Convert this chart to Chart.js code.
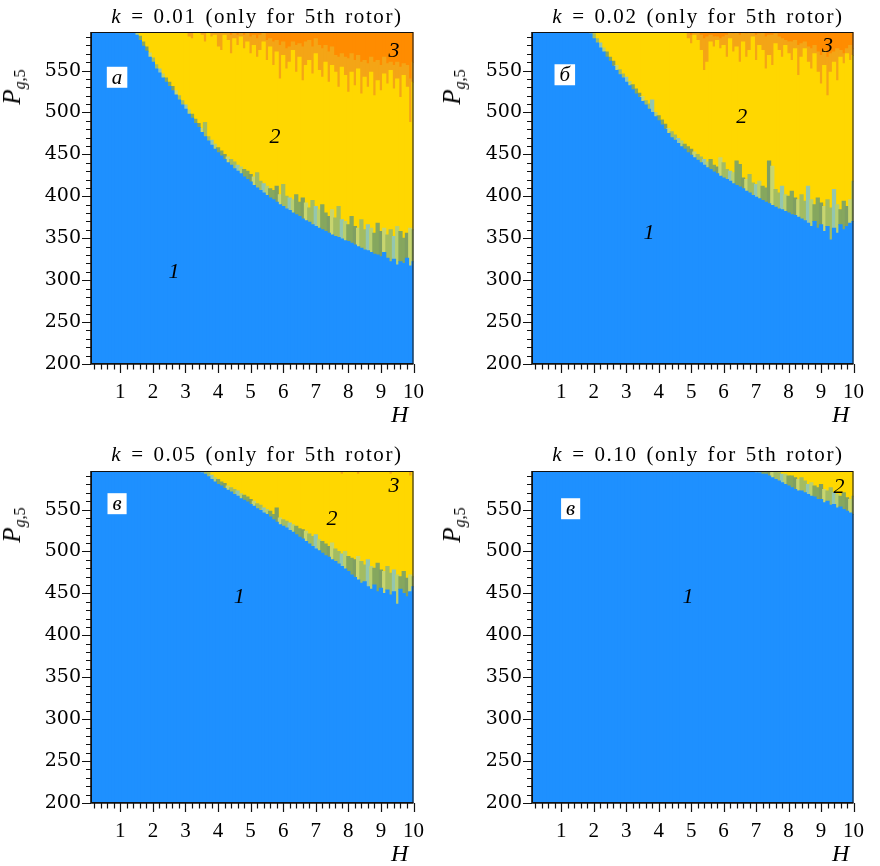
<!DOCTYPE html>
<html>
<head>
<meta charset="utf-8">
<script src="https://cdn.jsdelivr.net/npm/chart.js@4.4.1/dist/chart.umd.min.js"></script>
<style>
  body { margin: 0; background: #fff; }
  #wrap { position: relative; width: 880px; height: 866px; overflow: hidden; font-family: "Liberation Serif", serif; color: #000; }
  canvas { position: absolute; }
  .ttl { position: absolute; width: 440px; text-align: center; font-size: 21px; line-height: 24px; letter-spacing: 1.6px; word-spacing: 2px; white-space: nowrap; }
  .ylab { position: absolute; transform: translate(-50%, -50%) rotate(-90deg); white-space: nowrap; font-size: 25px; line-height: 26px; }
  .ylab sub { font-size: 16px; vertical-align: -5px; }
  .hlab { position: absolute; font-style: italic; font-size: 24px; line-height: 24px; }
</style>
</head>
<body>
<div id="wrap">
  <canvas id="cA" width="440" height="433" style="left:0;top:0"></canvas>
  <canvas id="cB" width="440" height="433" style="left:440px;top:0"></canvas>
  <canvas id="cC" width="440" height="433" style="left:0;top:439px"></canvas>
  <canvas id="cD" width="440" height="433" style="left:440px;top:439px"></canvas>

  <div class="ttl" style="left:37px;top:4px"><i>k</i> = 0.01 (only for 5th rotor)</div>
  <div class="ttl" style="left:478px;top:4px"><i>k</i> = 0.02 (only for 5th rotor)</div>
  <div class="ttl" style="left:37px;top:442px"><i>k</i> = 0.05 (only for 5th rotor)</div>
  <div class="ttl" style="left:478px;top:442px"><i>k</i> = 0.10 (only for 5th rotor)</div>

  <div class="ylab" style="left:16px;top:87px"><i>P</i><sub><i>g</i>,5</sub></div>
  <div class="ylab" style="left:456px;top:87px"><i>P</i><sub><i>g</i>,5</sub></div>
  <div class="ylab" style="left:16px;top:525px"><i>P</i><sub><i>g</i>,5</sub></div>
  <div class="ylab" style="left:456px;top:525px"><i>P</i><sub><i>g</i>,5</sub></div>

  <div class="hlab" style="left:391px;top:402px">H</div>
  <div class="hlab" style="left:832px;top:402px">H</div>
  <div class="hlab" style="left:391px;top:841px">H</div>
  <div class="hlab" style="left:832px;top:841px">H</div>
</div>

<script>
// grid columns (H) and axis ticks
const H = [
  0.1, 0.2, 0.3, 0.4, 0.5, 0.6, 0.7, 0.8, 0.9, 1.0,
  1.1, 1.2, 1.3, 1.4, 1.5, 1.6, 1.7, 1.8, 1.9, 2.0,
  2.1, 2.2, 2.3, 2.4, 2.5, 2.6, 2.7, 2.8, 2.9, 3.0,
  3.1, 3.2, 3.3, 3.4, 3.5, 3.6, 3.7, 3.8, 3.9, 4.0,
  4.1, 4.2, 4.3, 4.4, 4.5, 4.6, 4.7, 4.8, 4.9, 5.0,
  5.1, 5.2, 5.3, 5.4, 5.5, 5.6, 5.7, 5.8, 5.9, 6.0,
  6.1, 6.2, 6.3, 6.4, 6.5, 6.6, 6.7, 6.8, 6.9, 7.0,
  7.1, 7.2, 7.3, 7.4, 7.5, 7.6, 7.7, 7.8, 7.9, 8.0,
  8.1, 8.2, 8.3, 8.4, 8.5, 8.6, 8.7, 8.8, 8.9, 9.0,
  9.1, 9.2, 9.3, 9.4, 9.5, 9.6, 9.7, 9.8, 9.9, 10.0
];
const X_TICKS = [1, 2, 3, 4, 5, 6, 7, 8, 9, 10];
const Y_TICKS = [200, 250, 300, 350, 400, 450, 500, 550];
const P_MIN = 200;
const P_MAX = 596;

// k = 0.01 : upper edge of region 1, of the mixed band, of region 2, of light orange
const blueTopA = [
  596, 596, 596, 596, 596, 596, 596, 596, 596, 596,
  596, 596, 596, 596, 592, 586, 579, 573, 566, 560,
  552, 547, 541, 536, 531, 526, 521, 515, 509, 504,
  498, 493, 487, 482, 476, 471, 466, 461, 456, 452,
  448, 444, 440, 437, 433, 430, 427, 423, 420, 417,
  413, 410, 407, 404, 401, 398, 396, 393, 390, 388,
  385, 383, 380, 378, 376, 373, 371, 369, 366, 364,
  362, 360, 358, 356, 354, 352, 351, 349, 347, 346,
  344, 342, 340, 338, 336, 335, 333, 331, 330, 328,
  333, 326, 322, 325, 318, 322, 320, 326, 317, 322
];
const mixTopA = [
  596, 596, 596, 596, 596, 596, 596, 596, 596, 596,
  596, 596, 596, 596, 596, 591, 584, 578, 571, 565,
  557, 552, 546, 541, 536, 531, 526, 520, 514, 509,
  503, 498, 492, 487, 481, 488, 471, 467, 462, 458,
  454, 450, 447, 444, 441, 437, 435, 432, 430, 426,
  423, 428, 418, 415, 412, 409, 407, 412, 402, 414,
  400, 398, 396, 402, 393, 398, 392, 386, 395, 388,
  384, 390, 380, 376, 384, 374, 388, 372, 370, 366,
  376, 364, 362, 372, 360, 366, 362, 356, 368, 358,
  362, 354, 360, 352, 364, 358, 350, 356, 362, 360
];
const yellowTopA = [
  596, 596, 596, 596, 596, 596, 596, 596, 596, 596,
  596, 596, 596, 596, 596, 596, 596, 596, 596, 596,
  596, 596, 596, 596, 596, 596, 596, 596, 596, 596,
  590, 588, 596, 596, 592, 584, 596, 590, 592, 578,
  574, 592, 586, 570, 588, 580, 590, 576, 584, 570,
  580, 566, 574, 584, 562, 578, 556, 572, 540, 568,
  552, 560, 574, 548, 566, 538, 556, 562, 546, 570,
  550, 542, 560, 536, 556, 548, 530, 554, 544, 524,
  548, 532, 552, 522, 542, 530, 548, 520, 538, 526,
  546, 534, 550, 528, 540, 518, 544, 530, 488, 536
];
const orangeTopA = [
  596, 596, 596, 596, 596, 596, 596, 596, 596, 596,
  596, 596, 596, 596, 596, 596, 596, 596, 596, 596,
  596, 596, 596, 596, 596, 596, 596, 596, 596, 596,
  596, 596, 596, 596, 596, 596, 596, 596, 596, 596,
  596, 596, 596, 592, 596, 592, 596, 592, 596, 590,
  592, 588, 592, 596, 586, 588, 584, 586, 580, 584,
  576, 578, 584, 580, 582, 578, 584, 586, 578, 588,
  580, 576, 580, 572, 578, 568, 566, 570, 566, 564,
  570, 562, 568, 560, 562, 558, 566, 560, 562, 556,
  566, 558, 560, 556, 560, 554, 558, 556, 540, 560
];

// k = 0.02
const blueTopB = [
  596, 596, 596, 596, 596, 596, 596, 596, 596, 596,
  596, 596, 596, 596, 596, 596, 596, 596, 594, 588,
  583, 577, 572, 566, 561, 555, 550, 545, 541, 536,
  532, 527, 522, 518, 513, 509, 504, 500, 495, 490,
  485, 480, 475, 470, 467, 463, 459, 456, 452, 449,
  446, 443, 440, 437, 434, 432, 429, 427, 424, 422,
  420, 418, 415, 413, 411, 409, 406, 404, 401, 399,
  397, 395, 393, 391, 389, 387, 385, 384, 382, 380,
  378, 377, 375, 373, 371, 368, 364, 370, 362, 366,
  358, 364, 348, 362, 356, 366, 360, 364, 368, 370
];
const mixTopB = [
  596, 596, 596, 596, 596, 596, 596, 596, 596, 596,
  596, 596, 596, 596, 596, 596, 596, 596, 596, 594,
  588, 583, 577, 572, 566, 561, 556, 551, 546, 542,
  537, 533, 528, 523, 519, 514, 510, 515, 500, 496,
  491, 486, 481, 477, 473, 469, 466, 462, 459, 456,
  453, 450, 447, 444, 441, 444, 437, 435, 446, 440,
  432, 430, 428, 442, 438, 422, 420, 426, 416, 414,
  418, 412, 410, 442, 436, 408, 404, 412, 402, 400,
  406, 398, 396, 402, 394, 412, 396, 390, 398, 392,
  388, 396, 386, 408, 390, 384, 394, 388, 396, 418
];
const yellowTopB = [
  596, 596, 596, 596, 596, 596, 596, 596, 596, 596,
  596, 596, 596, 596, 596, 596, 596, 596, 596, 596,
  596, 596, 596, 596, 596, 596, 596, 596, 596, 596,
  596, 596, 596, 596, 596, 596, 596, 596, 596, 596,
  596, 596, 596, 596, 596, 596, 596, 596, 588, 582,
  592, 586, 574, 550, 560, 584, 578, 586, 576, 580,
  566, 588, 572, 578, 560, 584, 566, 574, 590, 562,
  580, 574, 552, 568, 556, 582, 574, 566, 580, 570,
  562, 576, 544, 566, 576, 560, 552, 570, 548, 534,
  556, 520, 548, 560, 538, 566, 558, 570, 562, 568
];
const orangeTopB = [
  596, 596, 596, 596, 596, 596, 596, 596, 596, 596,
  596, 596, 596, 596, 596, 596, 596, 596, 596, 596,
  596, 596, 596, 596, 596, 596, 596, 596, 596, 596,
  596, 596, 596, 596, 596, 596, 596, 596, 596, 596,
  596, 596, 596, 596, 596, 596, 596, 596, 596, 592,
  596, 596, 592, 588, 590, 592, 590, 590, 588, 590,
  592, 596, 594, 596, 592, 596, 594, 596, 596, 592,
  594, 596, 590, 592, 592, 594, 590, 588, 586, 584,
  584, 586, 580, 582, 584, 578, 576, 580, 572, 568,
  574, 566, 570, 572, 576, 574, 570, 576, 580, 576
];

// k = 0.05
const blueTopC = [
  596, 596, 596, 596, 596, 596, 596, 596, 596, 596,
  596, 596, 596, 596, 596, 596, 596, 596, 596, 596,
  596, 596, 596, 596, 596, 596, 596, 596, 596, 596,
  596, 596, 596, 596, 594, 592, 589, 586, 583, 580,
  578, 575, 573, 571, 568, 566, 563, 561, 559, 556,
  554, 551, 549, 546, 544, 541, 538, 535, 532, 530,
  528, 525, 523, 520, 517, 515, 512, 509, 506, 503,
  501, 498, 495, 493, 490, 488, 485, 482, 479, 476,
  472, 469, 466, 462, 464, 458, 455, 460, 452, 456,
  450, 454, 448, 452, 437, 455, 450, 446, 452, 458
];
const mixTopC = [
  596, 596, 596, 596, 596, 596, 596, 596, 596, 596,
  596, 596, 596, 596, 596, 596, 596, 596, 596, 596,
  596, 596, 596, 596, 596, 596, 596, 596, 596, 596,
  596, 596, 596, 596, 596, 596, 594, 591, 588, 586,
  583, 581, 578, 576, 574, 572, 569, 567, 565, 562,
  560, 557, 555, 552, 550, 548, 544, 552, 540, 538,
  536, 534, 532, 530, 527, 526, 524, 521, 518, 520,
  514, 512, 509, 506, 510, 503, 500, 497, 500, 494,
  492, 490, 494, 488, 484, 490, 482, 480, 486, 478,
  476, 482, 474, 478, 472, 470, 476, 468, 472, 470
];
const yellowTopC = [
  596, 596, 596, 596, 596, 596, 596, 596, 596, 596,
  596, 596, 596, 596, 596, 596, 596, 596, 596, 596,
  596, 596, 596, 596, 596, 596, 596, 596, 596, 596,
  596, 596, 596, 596, 596, 596, 596, 596, 596, 596,
  596, 596, 596, 596, 596, 596, 596, 596, 596, 596,
  596, 596, 596, 596, 596, 596, 596, 596, 596, 596,
  596, 596, 596, 596, 596, 596, 596, 596, 596, 596,
  596, 596, 596, 596, 596, 596, 596, 592, 596, 596,
  596, 596, 592, 596, 596, 596, 596, 596, 596, 596,
  596, 596, 592, 596, 596, 596, 596, 596, 590, 596
];

// k = 0.10
const blueTopD = [
  596, 596, 596, 596, 596, 596, 596, 596, 596, 596,
  596, 596, 596, 596, 596, 596, 596, 596, 596, 596,
  596, 596, 596, 596, 596, 596, 596, 596, 596, 596,
  596, 596, 596, 596, 596, 596, 596, 596, 596, 596,
  596, 596, 596, 596, 596, 596, 596, 596, 596, 596,
  596, 596, 596, 596, 596, 596, 596, 596, 596, 596,
  596, 596, 596, 596, 596, 596, 596, 596, 596, 594,
  594, 592, 592, 590, 588, 586, 584, 582, 580, 578,
  576, 574, 572, 572, 570, 568, 566, 565, 562, 562,
  558, 560, 555, 556, 552, 553, 550, 548, 546, 544
];
const mixTopD = [
  596, 596, 596, 596, 596, 596, 596, 596, 596, 596,
  596, 596, 596, 596, 596, 596, 596, 596, 596, 596,
  596, 596, 596, 596, 596, 596, 596, 596, 596, 596,
  596, 596, 596, 596, 596, 596, 596, 596, 596, 596,
  596, 596, 596, 596, 596, 596, 596, 596, 596, 596,
  596, 596, 596, 596, 596, 596, 596, 596, 596, 596,
  596, 596, 596, 596, 596, 596, 596, 596, 596, 596,
  596, 596, 596, 596, 596, 596, 594, 592, 592, 590,
  590, 588, 586, 588, 584, 580, 582, 578, 576, 580,
  574, 572, 576, 570, 568, 566, 570, 564, 562, 566
];

const COLORS = {
  blue: '#1e90ff',
  yellow: '#ffd700',
  orangeLight: '#f4a516',
  orangeDeep: '#ff8c00'
};
// tones of the noisy transition band, cycled column by column
const MIX_TONES = ['#86a75e', '#b9cf70', '#93c6b0', '#a3bc62', '#c8d56f', '#7f9f62'];

Chart.defaults.color = '#000';

function segment(lo, hi, color) {
  const data = H.map((h, i) => {
    const a = Array.isArray(lo) ? lo[i] : lo;
    const b = Array.isArray(hi) ? hi[i] : hi;
    return { x: h, y: a < b ? [a, b] : null };
  });
  return {
    data: data,
    backgroundColor: color,
    borderWidth: 0,
    inflateAmount: 0.5,
    grouped: false,
    barPercentage: 1,
    categoryPercentage: 1
  };
}

const panelMarks = {
  id: 'panelMarks',
  afterDatasetsDraw(chart, args, opts) {
    const ctx = chart.ctx;
    const a = chart.chartArea;
    const x = chart.scales.x;
    const y = chart.scales.y;
    ctx.save();

    // frame
    ctx.strokeStyle = '#111';
    ctx.lineWidth = 1;
    ctx.strokeRect(a.left + 0.5, a.top + 0.5, a.right - a.left - 1, a.bottom - a.top - 1);
    ctx.lineWidth = 1.6;
    ctx.beginPath();
    ctx.moveTo(a.left, a.top);
    ctx.lineTo(a.left, a.bottom);
    ctx.lineTo(a.right, a.bottom);
    ctx.stroke();

    // ticks, outward
    ctx.lineWidth = 1.2;
    ctx.beginPath();
    for (let k = 1; k <= 50; k++) {
      const px = Math.round(x.getPixelForValue(k * 0.2)) + 0.5;
      const len = k % 5 === 0 ? 9 : 5.5;
      ctx.moveTo(px, a.bottom);
      ctx.lineTo(px, a.bottom + len);
    }
    for (let v = 200; v <= 590; v += 10) {
      const py = Math.round(y.getPixelForValue(v)) + 0.5;
      const len = v % 50 === 0 ? 9 : 5;
      ctx.moveTo(a.left, py);
      ctx.lineTo(a.left - len, py);
    }
    ctx.stroke();

    // panel letter in a white box
    const bx = opts.box;
    ctx.font = 'italic 21px "Liberation Serif"';
    ctx.textAlign = 'center';
    ctx.textBaseline = 'middle';
    const cx = x.getPixelForValue(bx.h);
    const cy = y.getPixelForValue(bx.p);
    const w = ctx.measureText(bx.text).width + 10;
    ctx.fillStyle = '#fff';
    ctx.fillRect(cx - w / 2, cy - 10.5, w, 21);
    ctx.fillStyle = '#000';
    ctx.fillText(bx.text, cx, cy + 1);

    // region numbers
    ctx.font = 'italic 22px "Liberation Serif"';
    opts.labels.forEach(l => {
      ctx.fillText(l.text, x.getPixelForValue(l.h), y.getPixelForValue(l.p));
    });
    ctx.restore();
  }
};

function makePanel(id, axisWidth, tops, marks) {
  const mix = segment(tops.blue, tops.mix, null);
  mix.backgroundColor = c => MIX_TONES[(c.dataIndex * 5 + (c.dataIndex >> 2)) % MIX_TONES.length];
  const datasets = [
    segment(P_MIN, tops.blue, COLORS.blue),
    mix,
    segment(tops.mix, tops.yellow || P_MAX, COLORS.yellow)
  ];
  if (tops.yellow) datasets.push(segment(tops.yellow, tops.orange || P_MAX, COLORS.orangeLight));
  if (tops.orange) datasets.push(segment(tops.orange, P_MAX, COLORS.orangeDeep));

  new Chart(document.getElementById(id), {
    type: 'bar',
    data: { datasets: datasets },
    options: {
      responsive: false,
      animation: false,
      devicePixelRatio: 1,
      layout: { padding: { top: 32, right: 17, left: 0, bottom: 0 } },
      plugins: {
        legend: { display: false },
        tooltip: { enabled: false },
        panelMarks: marks
      },
      scales: {
        x: {
          type: 'linear',
          min: 0.1,
          max: 10,
          offset: false,
          grid: { display: false, drawTicks: false },
          border: { display: false },
          ticks: { font: { family: '"Liberation Serif", serif', size: 21 }, padding: 16, maxRotation: 0, autoSkip: false },
          afterBuildTicks: s => { s.ticks = X_TICKS.map(v => ({ value: v })); },
          afterFit: s => { s.height = 69; }
        },
        y: {
          type: 'linear',
          min: P_MIN,
          max: P_MAX,
          grid: { display: false, drawTicks: false },
          border: { display: false },
          ticks: { font: { family: '"DejaVu Serif", serif', size: 19 }, padding: 10 },
          afterBuildTicks: s => { s.ticks = Y_TICKS.map(v => ({ value: v })); },
          afterFit: s => { s.width = axisWidth; }
        }
      }
    },
    plugins: [panelMarks]
  });
}

makePanel('cA', 91,
  { blue: blueTopA, mix: mixTopA, yellow: yellowTopA, orange: orangeTopA },
  { box: { h: 0.9, p: 542, text: 'а' },
    labels: [{ h: 2.65, p: 309, text: '1' }, { h: 5.75, p: 471, text: '2' }, { h: 9.4, p: 573, text: '3' }] });

makePanel('cB', 92,
  { blue: blueTopB, mix: mixTopB, yellow: yellowTopB, orange: orangeTopB },
  { box: { h: 1.11, p: 545, text: 'б' },
    labels: [{ h: 3.7, p: 356, text: '1' }, { h: 6.56, p: 494, text: '2' }, { h: 9.2, p: 579, text: '3' }] });

makePanel('cC', 91,
  { blue: blueTopC, mix: mixTopC, yellow: yellowTopC },
  { box: { h: 0.9, p: 557, text: 'в' },
    labels: [{ h: 4.65, p: 445, text: '1' }, { h: 7.5, p: 539, text: '2' }, { h: 9.4, p: 578, text: '3' }] });

makePanel('cD', 92,
  { blue: blueTopD, mix: mixTopD },
  { box: { h: 1.29, p: 551, text: 'в' },
    labels: [{ h: 4.9, p: 445, text: '1' }, { h: 9.55, p: 577, text: '2' }] });
</script>
</body>
</html>
